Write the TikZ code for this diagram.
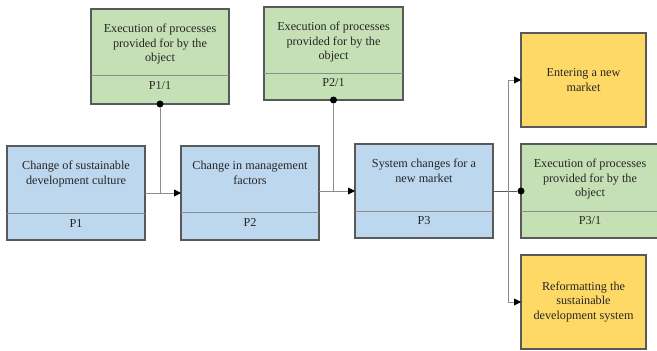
\documentclass[tikz,border=0pt]{standalone}
\usepackage{fontspec}
\setmainfont{Liberation Serif}
\usetikzlibrary{arrows.meta}
\definecolor{boxblue}{HTML}{BDD7EE}
\definecolor{boxgreen}{HTML}{C5E0B4}
\definecolor{boxyellow}{HTML}{FFD966}
\definecolor{edgegray}{HTML}{595959}
\definecolor{wiregray}{HTML}{8C8C8C}
\definecolor{inkgray}{HTML}{262626}
\begin{document}
\begin{tikzpicture}[x=1pt,y=-1pt,
  stage/.style={rectangle,draw=edgegray,line width=1.1pt,inner sep=0pt,outer sep=0pt},
  bluebox/.style={stage,fill=boxblue,minimum width=138pt,minimum height=94pt},
  greenbox/.style={stage,fill=boxgreen,minimum width=138pt,minimum height=94pt},
  yellowbox/.style={stage,fill=boxyellow,minimum width=125pt,minimum height=94pt},
  caption/.style={align=center,inner sep=0pt,text=inkgray,font=\fontsize{12.2}{14.5}\selectfont},
  tag/.style={inner sep=0pt,text=inkgray,font=\fontsize{12.2}{14.5}\selectfont},
  divider/.style={draw=wiregray,line width=0.8pt},
  wire/.style={draw=wiregray,line width=0.9pt},
  tip/.style={-{Triangle[length=7pt,width=7pt,color=black]}},
  dot/.style={circle,fill=black,inner sep=0pt,minimum size=7pt}]

\useasboundingbox (0,0) rectangle (657,351);
\fill[white] (0,0) rectangle (657,351);

% ---- object process boxes (top row and right column) ----
\node[greenbox,minimum height=95pt] (p11) at (160,56.5) {};
\draw[divider] ([yshift=29pt]p11.south west) -- ([yshift=29pt]p11.south east);
\node[caption,anchor=north] (p11t) at ([yshift=-15pt]p11.north) {Execution of processes\\provided for by the\\object};
\node[tag] (p11id) at (160,86) {P1/1};

\node[greenbox,minimum width=139pt,minimum height=93pt] (p21) at (333.5,53.5) {};
\draw[divider] ([yshift=27pt]p21.south west) -- ([yshift=27pt]p21.south east);
\node[caption,anchor=north] (p21t) at ([yshift=-15pt]p21.north) {Execution of processes\\provided for by the\\object};
\node[tag] (p21id) at (333.5,83) {P2/1};

\node[greenbox] (p31) at (590,191) {};
\draw[divider] ([yshift=27pt]p31.south west) -- ([yshift=27pt]p31.south east);
\node[caption,anchor=north] (p31t) at ([yshift=-15pt]p31.north) {Execution of processes\\provided for by the\\object};
\node[tag] (p31id) at (590,221) {P3/1};

% ---- main chain ----
\node[bluebox] (p1) at (76,193) {};
\draw[divider] ([yshift=27pt]p1.south west) -- ([yshift=27pt]p1.south east);
\node[caption,anchor=north] (p1t) at ([yshift=-15pt]p1.north) {Change of sustainable\\development culture};
\node[tag] (p1id) at (76,223) {P1};

\node[bluebox] (p2) at (250,193) {};
\draw[divider] ([yshift=28pt]p2.south west) -- ([yshift=28pt]p2.south east);
\node[caption,anchor=north] (p2t) at ([yshift=-15pt]p2.north) {Change in management\\factors};
\node[tag] (p2id) at (250,222) {P2};

\node[bluebox] (p3) at (424,191) {};
\draw[divider] ([yshift=27pt]p3.south west) -- ([yshift=27pt]p3.south east);
\node[caption,anchor=north] (p3t) at ([yshift=-15pt]p3.north) {System changes for a\\new market};
\node[tag] (p3id) at (424,220.5) {P3};

% ---- outcomes ----
\node[yellowbox] (enter) at (583.5,80) {};
\node[caption] (entert) at (enter.center) {Entering a new\\market};

\node[yellowbox] (reform) at (583.5,302) {};
\node[caption] (reformt) at (reform.center) {Reformatting the\\sustainable\\development system};

% ---- connectors ----
\draw[wire,tip] (p1.east) -- (p2.west);
\node[dot] (d11) at (p11.south) {};
\draw[wire] (d11) -- (d11 |- p1.east);

\draw[wire,tip] (p3.west -| p2.east) -- (p3.west);
\node[dot] (d21) at (p21.south) {};
\draw[wire] (d21) -- (d21 |- p3.west);

\node[dot] (d31) at (p31.west) {};
\draw[draw=edgegray,line width=1pt] (p3.east) -- (d31);
\coordinate (fork) at ([xshift=15pt]p3.east);
\draw[wire,tip] (fork) |- (enter.west);
\draw[wire,tip] (fork) |- (reform.west);
\end{tikzpicture}
\end{document}
